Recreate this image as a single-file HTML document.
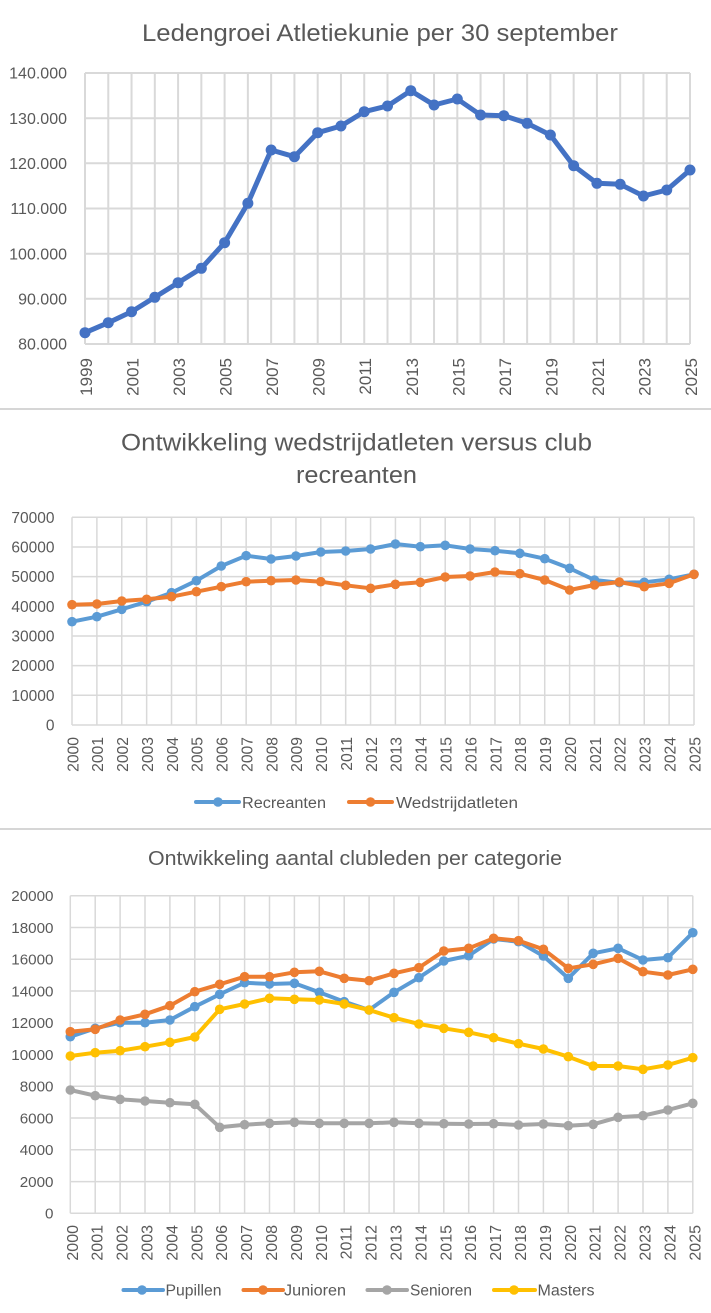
<!DOCTYPE html>
<html><head><meta charset="utf-8">
<style>
html,body{margin:0;padding:0;background:#fff;}
svg{display:block;}
text{font-family:"Liberation Sans",sans-serif;fill:#595959;}
</style></head>
<body>
<svg width="711" height="1313" viewBox="0 0 711 1313" xmlns="http://www.w3.org/2000/svg">
<defs>
<marker id="m1" markerUnits="userSpaceOnUse" markerWidth="14" markerHeight="14" refX="7" refY="7"><circle cx="7" cy="7" r="5.5" fill="#4472C4"/></marker>
<marker id="mb" markerUnits="userSpaceOnUse" markerWidth="12" markerHeight="12" refX="6" refY="6"><circle cx="6" cy="6" r="4.8" fill="#5B9BD5"/></marker>
<marker id="mo" markerUnits="userSpaceOnUse" markerWidth="12" markerHeight="12" refX="6" refY="6"><circle cx="6" cy="6" r="4.8" fill="#ED7D31"/></marker>
<marker id="mg" markerUnits="userSpaceOnUse" markerWidth="12" markerHeight="12" refX="6" refY="6"><circle cx="6" cy="6" r="4.8" fill="#A5A5A5"/></marker>
<marker id="my" markerUnits="userSpaceOnUse" markerWidth="12" markerHeight="12" refX="6" refY="6"><circle cx="6" cy="6" r="4.8" fill="#FFC000"/></marker>
</defs>
<rect width="711" height="1313" fill="#fff"/>

<!-- ============ CHART 1 ============ -->
<text x="142" y="41" font-size="24" textLength="476" lengthAdjust="spacingAndGlyphs">Ledengroei Atletiekunie per 30 september</text>
<g stroke="#d9d9d9" stroke-width="2" fill="none">
<path d="M85 73H690M85 118.2H690M85 163.3H690M85 208.5H690M85 253.7H690M85 298.8H690M85 344H690"/>
<path d="M85 73V344M108.27 73V344M131.54 73V344M154.81 73V344M178.08 73V344M201.35 73V344M224.62 73V344M247.88 73V344M271.15 73V344M294.42 73V344M317.69 73V344M340.96 73V344M364.23 73V344M387.5 73V344M410.77 73V344M434.04 73V344M457.31 73V344M480.58 73V344M503.85 73V344M527.12 73V344M550.38 73V344M573.65 73V344M596.92 73V344M620.19 73V344M643.46 73V344M666.73 73V344M690 73V344"/>
</g>
<g font-size="16" text-anchor="end">
<text x="67" y="78.7">140.000</text>
<text x="67" y="123.9">130.000</text>
<text x="67" y="169">120.000</text>
<text x="67" y="214.2">110.000</text>
<text x="67" y="259.4">100.000</text>
<text x="67" y="304.5">90.000</text>
<text x="67" y="349.7">80.000</text>
</g>
<g font-size="17" text-anchor="end">
<text transform="translate(92,358) rotate(-90)">1999</text>
<text transform="translate(138.5,358) rotate(-90)">2001</text>
<text transform="translate(185.1,358) rotate(-90)">2003</text>
<text transform="translate(231.6,358) rotate(-90)">2005</text>
<text transform="translate(278.2,358) rotate(-90)">2007</text>
<text transform="translate(324.7,358) rotate(-90)">2009</text>
<text transform="translate(371.2,358) rotate(-90)">2011</text>
<text transform="translate(417.8,358) rotate(-90)">2013</text>
<text transform="translate(464.3,358) rotate(-90)">2015</text>
<text transform="translate(510.9,358) rotate(-90)">2017</text>
<text transform="translate(557.4,358) rotate(-90)">2019</text>
<text transform="translate(603.9,358) rotate(-90)">2021</text>
<text transform="translate(650.5,358) rotate(-90)">2023</text>
<text transform="translate(697,358) rotate(-90)">2025</text>
</g>
<polyline fill="none" stroke="#4472C4" stroke-width="5" stroke-linejoin="round" stroke-linecap="round" marker-start="url(#m1)" marker-mid="url(#m1)" marker-end="url(#m1)"
points="85,332.7 108.27,322.7 131.54,311.7 154.81,297.3 178.08,282.7 201.35,268.3 224.62,242.7 247.88,203.3 271.15,150 294.42,156.7 317.69,132.7 340.96,126 364.23,111.7 387.5,106 410.77,90.7 434.04,105 457.31,99 480.58,115 503.85,115.7 527.12,123.3 550.38,135 573.65,165.7 596.92,183.3 620.19,184.3 643.46,196 666.73,190 690,170"/>

<rect x="0" y="408" width="711" height="2" fill="#d6d6d6"/>

<!-- ============ CHART 2 ============ -->
<text x="121" y="450.5" font-size="24" textLength="471" lengthAdjust="spacingAndGlyphs">Ontwikkeling wedstrijdatleten versus club</text>
<text x="296" y="483" font-size="24" textLength="121" lengthAdjust="spacingAndGlyphs">recreanten</text>
<g stroke="#d9d9d9" stroke-width="1.5" fill="none">
<path d="M72 517.3H694M72 547H694M72 576.6H694M72 606.3H694M72 636H694M72 665.6H694M72 695.3H694M72 725H694"/>
<path d="M72 517.3V725M96.88 517.3V725M121.76 517.3V725M146.64 517.3V725M171.52 517.3V725M196.4 517.3V725M221.28 517.3V725M246.16 517.3V725M271.04 517.3V725M295.92 517.3V725M320.8 517.3V725M345.68 517.3V725M370.56 517.3V725M395.44 517.3V725M420.32 517.3V725M445.2 517.3V725M470.08 517.3V725M494.96 517.3V725M519.84 517.3V725M544.72 517.3V725M569.6 517.3V725M594.48 517.3V725M619.36 517.3V725M644.24 517.3V725M669.12 517.3V725M694 517.3V725"/>
</g>
<g font-size="15.5" text-anchor="end">
<text x="54.5" y="522.8">70000</text>
<text x="54.5" y="552.5">60000</text>
<text x="54.5" y="582.1">50000</text>
<text x="54.5" y="611.8">40000</text>
<text x="54.5" y="641.5">30000</text>
<text x="54.5" y="671.1">20000</text>
<text x="54.5" y="700.8">10000</text>
<text x="54.5" y="730.5">0</text>
</g>
<g font-size="15.7" text-anchor="end">
<text transform="translate(78.3,737) rotate(-90)">2000</text>
<text transform="translate(103.2,737) rotate(-90)">2001</text>
<text transform="translate(128.1,737) rotate(-90)">2002</text>
<text transform="translate(152.9,737) rotate(-90)">2003</text>
<text transform="translate(177.8,737) rotate(-90)">2004</text>
<text transform="translate(202.7,737) rotate(-90)">2005</text>
<text transform="translate(227.6,737) rotate(-90)">2006</text>
<text transform="translate(252.5,737) rotate(-90)">2007</text>
<text transform="translate(277.3,737) rotate(-90)">2008</text>
<text transform="translate(302.2,737) rotate(-90)">2009</text>
<text transform="translate(327.1,737) rotate(-90)">2010</text>
<text transform="translate(352,737) rotate(-90)">2011</text>
<text transform="translate(376.9,737) rotate(-90)">2012</text>
<text transform="translate(401.7,737) rotate(-90)">2013</text>
<text transform="translate(426.6,737) rotate(-90)">2014</text>
<text transform="translate(451.5,737) rotate(-90)">2015</text>
<text transform="translate(476.4,737) rotate(-90)">2016</text>
<text transform="translate(501.3,737) rotate(-90)">2017</text>
<text transform="translate(526.1,737) rotate(-90)">2018</text>
<text transform="translate(551,737) rotate(-90)">2019</text>
<text transform="translate(575.9,737) rotate(-90)">2020</text>
<text transform="translate(600.8,737) rotate(-90)">2021</text>
<text transform="translate(625.7,737) rotate(-90)">2022</text>
<text transform="translate(650.5,737) rotate(-90)">2023</text>
<text transform="translate(675.4,737) rotate(-90)">2024</text>
<text transform="translate(700.3,737) rotate(-90)">2025</text>
</g>
<polyline fill="none" stroke="#5B9BD5" stroke-width="4" stroke-linejoin="round" stroke-linecap="round" marker-start="url(#mb)" marker-mid="url(#mb)" marker-end="url(#mb)"
points="72,621.7 96.88,616.7 121.76,609.3 146.64,601.7 171.52,592.7 196.4,580.7 221.28,566 246.16,555.7 271.04,559 295.92,556 320.8,552 345.68,551 370.56,549 395.44,544 420.32,546.7 445.2,545.3 470.08,549 494.96,550.7 519.84,553.3 544.72,558.7 569.6,568.3 594.48,580 619.36,582.7 644.24,582.3 669.12,579.3 694,574.3"/>
<polyline fill="none" stroke="#ED7D31" stroke-width="4" stroke-linejoin="round" stroke-linecap="round" marker-start="url(#mo)" marker-mid="url(#mo)" marker-end="url(#mo)"
points="72,604.7 96.88,604 121.76,601 146.64,599.3 171.52,596.7 196.4,591.7 221.28,586.7 246.16,581.7 271.04,580.7 295.92,580 320.8,581.7 345.68,585.3 370.56,588.3 395.44,584.3 420.32,582.3 445.2,577 470.08,576 494.96,572 519.84,573.7 544.72,580 569.6,590 594.48,585 619.36,582 644.24,586.7 669.12,583.3 694,574.3"/>
<!-- legend 2 -->
<line x1="196" y1="802" x2="239" y2="802" stroke="#5B9BD5" stroke-width="4" stroke-linecap="round"/>
<circle cx="218" cy="802" r="4.8" fill="#5B9BD5"/>
<text x="242" y="808" font-size="15.5" textLength="84" lengthAdjust="spacingAndGlyphs">Recreanten</text>
<line x1="349" y1="802" x2="392" y2="802" stroke="#ED7D31" stroke-width="4" stroke-linecap="round"/>
<circle cx="370.5" cy="802" r="4.8" fill="#ED7D31"/>
<text x="396" y="808" font-size="15.5" textLength="122" lengthAdjust="spacingAndGlyphs">Wedstrijdatleten</text>

<rect x="0" y="828" width="711" height="2" fill="#d6d6d6"/>

<!-- ============ CHART 3 ============ -->
<text x="148" y="865" font-size="20" textLength="414" lengthAdjust="spacingAndGlyphs">Ontwikkeling aantal clubleden per categorie</text>
<g stroke="#d9d9d9" stroke-width="1.5" fill="none">
<path d="M70.3 895.7H692.8M70.3 927.5H692.8M70.3 959.2H692.8M70.3 991H692.8M70.3 1022.8H692.8M70.3 1054.5H692.8M70.3 1086.3H692.8M70.3 1118H692.8M70.3 1149.8H692.8M70.3 1181.6H692.8M70.3 1213.3H692.8"/>
<path d="M70.3 895.7V1213.3M95.2 895.7V1213.3M120.1 895.7V1213.3M145 895.7V1213.3M169.9 895.7V1213.3M194.8 895.7V1213.3M219.7 895.7V1213.3M244.6 895.7V1213.3M269.5 895.7V1213.3M294.4 895.7V1213.3M319.3 895.7V1213.3M344.2 895.7V1213.3M369.1 895.7V1213.3M394 895.7V1213.3M418.9 895.7V1213.3M443.8 895.7V1213.3M468.7 895.7V1213.3M493.6 895.7V1213.3M518.5 895.7V1213.3M543.4 895.7V1213.3M568.3 895.7V1213.3M593.2 895.7V1213.3M618.1 895.7V1213.3M643 895.7V1213.3M667.9 895.7V1213.3M692.8 895.7V1213.3"/>
</g>
<g font-size="15.2" text-anchor="end">
<text x="53.5" y="901.1">20000</text>
<text x="53.5" y="932.9">18000</text>
<text x="53.5" y="964.6">16000</text>
<text x="53.5" y="996.4">14000</text>
<text x="53.5" y="1028.2">12000</text>
<text x="53.5" y="1059.9">10000</text>
<text x="53.5" y="1091.7">8000</text>
<text x="53.5" y="1123.4">6000</text>
<text x="53.5" y="1155.2">4000</text>
<text x="53.5" y="1187">2000</text>
<text x="53.5" y="1218.7">0</text>
</g>
<g font-size="16" text-anchor="end">
<text transform="translate(77.8,1225) rotate(-90)">2000</text>
<text transform="translate(102.7,1225) rotate(-90)">2001</text>
<text transform="translate(127.6,1225) rotate(-90)">2002</text>
<text transform="translate(152.5,1225) rotate(-90)">2003</text>
<text transform="translate(177.4,1225) rotate(-90)">2004</text>
<text transform="translate(202.3,1225) rotate(-90)">2005</text>
<text transform="translate(227.2,1225) rotate(-90)">2006</text>
<text transform="translate(252.1,1225) rotate(-90)">2007</text>
<text transform="translate(277,1225) rotate(-90)">2008</text>
<text transform="translate(301.9,1225) rotate(-90)">2009</text>
<text transform="translate(326.8,1225) rotate(-90)">2010</text>
<text transform="translate(351.7,1225) rotate(-90)">2011</text>
<text transform="translate(376.6,1225) rotate(-90)">2012</text>
<text transform="translate(401.5,1225) rotate(-90)">2013</text>
<text transform="translate(426.4,1225) rotate(-90)">2014</text>
<text transform="translate(451.3,1225) rotate(-90)">2015</text>
<text transform="translate(476.2,1225) rotate(-90)">2016</text>
<text transform="translate(501.1,1225) rotate(-90)">2017</text>
<text transform="translate(526,1225) rotate(-90)">2018</text>
<text transform="translate(550.9,1225) rotate(-90)">2019</text>
<text transform="translate(575.8,1225) rotate(-90)">2020</text>
<text transform="translate(600.7,1225) rotate(-90)">2021</text>
<text transform="translate(625.6,1225) rotate(-90)">2022</text>
<text transform="translate(650.5,1225) rotate(-90)">2023</text>
<text transform="translate(675.4,1225) rotate(-90)">2024</text>
<text transform="translate(700.3,1225) rotate(-90)">2025</text>
</g>
<polyline fill="none" stroke="#5B9BD5" stroke-width="4" stroke-linejoin="round" stroke-linecap="round" marker-start="url(#mb)" marker-mid="url(#mb)" marker-end="url(#mb)"
points="70.3,1036.7 95.2,1028.3 120.1,1022.7 145,1022.7 169.9,1020 194.8,1006.7 219.7,994.3 244.6,982.7 269.5,984 294.4,983.3 319.3,992.3 344.2,1001.7 369.1,1010 394,992.3 418.9,977.7 443.8,961 468.7,955.7 493.6,939 518.5,941.7 543.4,956 568.3,978.3 593.2,953.3 618.1,948.3 643,960 667.9,957.7 692.8,932.7"/>
<polyline fill="none" stroke="#ED7D31" stroke-width="4" stroke-linejoin="round" stroke-linecap="round" marker-start="url(#mo)" marker-mid="url(#mo)" marker-end="url(#mo)"
points="70.3,1031.7 95.2,1029.3 120.1,1020 145,1014.3 169.9,1005.7 194.8,991.7 219.7,984.3 244.6,976.7 269.5,976.7 294.4,972.3 319.3,971.3 344.2,978.3 369.1,980.7 394,973.3 418.9,967.7 443.8,951 468.7,948.3 493.6,938.3 518.5,940.7 543.4,949.3 568.3,968.3 593.2,964.3 618.1,958.3 643,971.7 667.9,975 692.8,969.3"/>
<polyline fill="none" stroke="#A5A5A5" stroke-width="4" stroke-linejoin="round" stroke-linecap="round" marker-start="url(#mg)" marker-mid="url(#mg)" marker-end="url(#mg)"
points="70.3,1090 95.2,1095.7 120.1,1099.3 145,1101 169.9,1102.7 194.8,1104.3 219.7,1127.3 244.6,1124.7 269.5,1123.3 294.4,1122.3 319.3,1123.3 344.2,1123.3 369.1,1123.3 394,1122.3 418.9,1123.3 443.8,1123.7 468.7,1124 493.6,1123.7 518.5,1125 543.4,1124 568.3,1125.7 593.2,1124.3 618.1,1117.3 643,1115.7 667.9,1110 692.8,1103.3"/>
<polyline fill="none" stroke="#FFC000" stroke-width="4" stroke-linejoin="round" stroke-linecap="round" marker-start="url(#my)" marker-mid="url(#my)" marker-end="url(#my)"
points="70.3,1056 95.2,1052.7 120.1,1050.7 145,1046.7 169.9,1042.3 194.8,1037 219.7,1009.3 244.6,1004 269.5,998.3 294.4,999.3 319.3,1000 344.2,1004 369.1,1010 394,1017.7 418.9,1024 443.8,1028.3 468.7,1032.3 493.6,1037.7 518.5,1043.7 543.4,1049 568.3,1056.7 593.2,1066 618.1,1066 643,1069.3 667.9,1065 692.8,1057.7"/>
<!-- legend 3 -->
<line x1="123.5" y1="1290" x2="163" y2="1290" stroke="#5B9BD5" stroke-width="4" stroke-linecap="round"/>
<circle cx="142" cy="1290" r="4.8" fill="#5B9BD5"/>
<text x="165.5" y="1295.7" font-size="15.5" textLength="56" lengthAdjust="spacingAndGlyphs">Pupillen</text>
<line x1="243.5" y1="1290" x2="283" y2="1290" stroke="#ED7D31" stroke-width="4" stroke-linecap="round"/>
<circle cx="263" cy="1290" r="4.8" fill="#ED7D31"/>
<text x="284" y="1295.7" font-size="15.5" textLength="62" lengthAdjust="spacingAndGlyphs">Junioren</text>
<line x1="367.5" y1="1290" x2="407" y2="1290" stroke="#A5A5A5" stroke-width="4" stroke-linecap="round"/>
<circle cx="387" cy="1290" r="4.8" fill="#A5A5A5"/>
<text x="410" y="1295.7" font-size="15.5" textLength="62" lengthAdjust="spacingAndGlyphs">Senioren</text>
<line x1="494" y1="1290" x2="535" y2="1290" stroke="#FFC000" stroke-width="4" stroke-linecap="round"/>
<circle cx="514" cy="1290" r="4.8" fill="#FFC000"/>
<text x="537.5" y="1295.7" font-size="15.5" textLength="57" lengthAdjust="spacingAndGlyphs">Masters</text>
</svg>
</body></html>
